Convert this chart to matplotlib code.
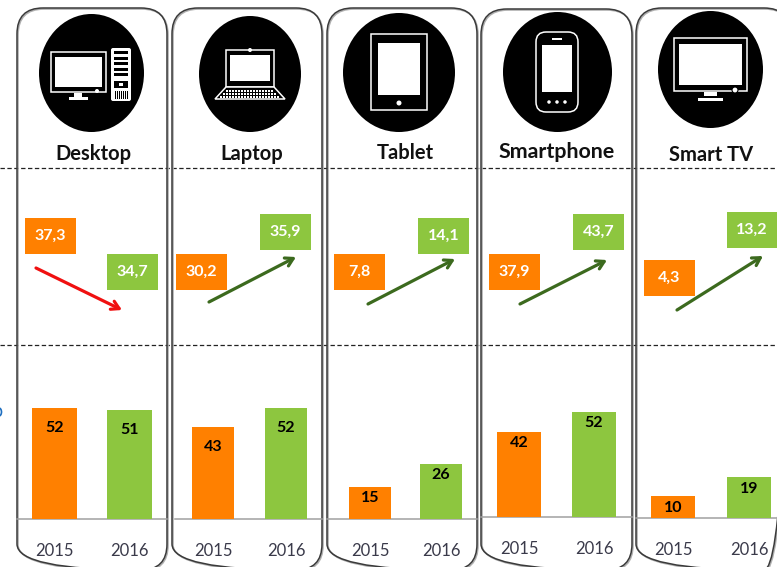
#!/usr/bin/env python3

import matplotlib
matplotlib.use("Agg")
import matplotlib.pyplot as plt
from matplotlib.patches import Ellipse, FancyBboxPatch, Polygon, Rectangle

plt.rcParams['font.family'] = ['Lato', 'DejaVu Sans']

W, H = 777, 567
ORANGE = "#ff8000"
GREEN = "#8dc63f"
DARK_GREEN = "#3c6a1e"
RED = "#f01010"

devices = ["Desktop", "Laptop", "Tablet", "Smartphone", "Smart TV"]
years = ["2015", "2016"]
top_2015 = ["37,3", "30,2", "7,8", "37,9", "4,3"]
top_2016 = ["34,7", "35,9", "14,1", "43,7", "13,2"]
bars_2015 = [52, 43, 15, 42, 10]
bars_2016 = [51, 52, 26, 52, 19]

# layout, all in reference pixels
panel_x = [(17, 167), (172, 322), (327, 477), (481, 632), (636, 790)]
panel_top = [8, 8, 8, 9, 8]
title_pos = [(93, 154), (252, 154), (405, 153), (557, 152), (711, 155)]
title_size = [14.5, 14.5, 14.5, 15.4, 14.5]
circles = [(39, 144, 14, 132), (199, 301, 16, 132), (343, 455, 13, 132),
           (503, 612, 12, 132), (658, 763, 11, 128)]
box_2015 = [(25, 218), (176, 254), (334, 254), (489, 254), (644, 260)]
box_2016 = [(107, 254), (260, 214), (418, 218), (573, 214), (727, 212)]
arrows = [((36, 268), (122, 310)), ((209, 302), (296, 257)), ((368, 304), (455, 259)),
          ((520, 304), (607, 260)), ((677, 310), (763, 256))]
bar_x = [(32, 77, 107, 152), (192, 234, 265, 307), (349, 391, 420, 462),
         (497, 541, 572, 616), (651, 695, 727, 771)]
baseline = [519, 519, 519, 517, 518]
baseline_x = [(17, 167), (175, 322), (327, 477), (481, 632), (636, 777)]
px_per_unit = [2.13, 2.13, 2.12, 2.02, 2.17]
label_drop = [20, 20, 11, 11, 12]
year_pad = [17.5, 17.5, 17.5, 17.5, 17.5]

fig = plt.figure(figsize=(W / 100, H / 100), dpi=100)
ax = fig.add_axes([0, 0, 1, 1])
ax.set_xlim(0, W)
ax.set_ylim(H, 0)
ax.axis("off")


def wrect(x0, x1, y0, y1, face="white", edge="none", lw=1.0, z=6):
    ax.add_patch(Rectangle((x0, y0), x1 - x0, y1 - y0, fc=face, ec=edge, lw=lw, zorder=z))


def desktop_icon():
    wrect(51, 106, 52, 92, face="black", edge="white", lw=1.1)
    wrect(55, 102, 57, 87, z=7)
    wrect(74, 82, 93, 97)
    wrect(69, 88, 97, 100)
    ax.add_patch(Ellipse((97, 91), 4, 4, fc="white", zorder=8))
    ax.add_patch(FancyBboxPatch((111, 48), 20, 53, boxstyle="round,pad=0,rounding_size=2",
                                fc="white", ec="none", zorder=6))
    for y in [51, 57, 62, 68, 73]:
        wrect(114, 128, y, y + 3, face="black", z=7)
    wrect(114, 128, 81, 88, face="black", z=7)
    wrect(119, 123, 83, 86, z=8)
    for x in range(115, 128, 2):
        wrect(x, x + 1, 91, 99, face="black", z=7)


def laptop_icon():
    wrect(226, 274, 50, 87, face="black", edge="white", lw=1.1)
    wrect(230, 270, 55, 81, z=7)
    ax.add_patch(Ellipse((250, 50), 4, 4, fc="white", zorder=8))
    ax.add_patch(Polygon([(226, 87), (274, 87), (285, 99), (215, 99)], fc="black",
                         ec="white", lw=1.1, zorder=6))
    for y, x0, x1 in [(90, 226, 274), (93, 223, 277), (96, 220, 280)]:
        for x in range(x0, x1, 3):
            wrect(x, x + 2, y, y + 1.5, z=7)


def tablet_icon():
    wrect(371, 427, 34, 110, face="black", edge="white", lw=1.1)
    wrect(378, 420, 43, 95, z=7)
    ax.add_patch(Ellipse((399, 103), 5, 5, fc="white", zorder=8))


def phone_icon():
    ax.add_patch(FancyBboxPatch((536, 32), 42, 80, boxstyle="round,pad=0,rounding_size=10",
                                fc="black", ec="white", lw=1.1, zorder=6))
    wrect(542, 572, 45, 92, z=7)
    wrect(552, 562, 38, 39.5, z=7)
    for x in [549, 557, 565]:
        ax.add_patch(Ellipse((x, 102), 3.5, 3.5, fc="white", zorder=8))


def tv_icon():
    wrect(674, 747, 38, 91, face="black", edge="white", lw=1.1)
    wrect(679, 742, 44, 85, z=7)
    ax.add_patch(Ellipse((735, 90), 6, 6, fc="white", ec="black", lw=0.8, zorder=8))
    wrect(704, 717, 92, 96)
    wrect(698, 723, 98, 101)


icons = [desktop_icon, laptop_icon, tablet_icon, phone_icon, tv_icon]

# dashed separators
for y in [168, 345]:
    ax.plot([0, W], [y, y], color="#222222", lw=0.9, ls=(0, (3.5, 2)), zorder=1)

# stray blue fragment on the left edge
ax.add_patch(Ellipse((-1, 412), 5, 8, fc="none", ec="#1f6fc0", lw=1.2, zorder=2))

for i, name in enumerate(devices):
    x0, x1 = panel_x[i]
    # grey shadow line, then the dark outline
    ax.add_patch(FancyBboxPatch((x0 + 1, panel_top[i] + 1), x1 - x0, 570 - panel_top[i],
                                boxstyle="round,pad=0,rounding_size=26",
                                fc="none", ec="#b0b0b0", lw=1.2, zorder=2))
    ax.add_patch(FancyBboxPatch((x0, panel_top[i]), x1 - x0, 570 - panel_top[i],
                                boxstyle="round,pad=0,rounding_size=26",
                                fc="none", ec="#3a3a3a", lw=1.1, zorder=2))
    l, r, b, t = circles[i]
    ax.add_patch(Ellipse(((l + r) / 2, (t + b) / 2), r - l, t - b, fc="black", ec="none", zorder=5))
    icons[i]()
    ax.text(title_pos[i][0], title_pos[i][1], name, ha="center", va="center",
            fontsize=title_size[i], fontweight="bold", color="#111111")

    # boxes with the upper numbers
    for (bx, by), label, color in [(box_2015[i], top_2015[i], ORANGE),
                                   (box_2016[i], top_2016[i], GREEN)]:
        ax.add_patch(Rectangle((bx, by), 51, 36, fc=color, ec="none", zorder=3))
        ax.text(min(bx + 25.5, 752), by + 18, label, ha="center", va="center",
                fontsize=11.5, fontweight="bold", color="white", zorder=4)

    arrow_color = RED if i == 0 else DARK_GREEN
    ax.annotate("", xy=arrows[i][1], xytext=arrows[i][0], zorder=4,
                arrowprops=dict(arrowstyle="->,head_length=0.55,head_width=0.32",
                                color=arrow_color, lw=2.3, shrinkA=0, shrinkB=0))

    ax.plot(baseline_x[i], [baseline[i], baseline[i]], color="#a0a0a0", lw=1.1, zorder=3)

    # bars in their own axes
    a0, a1, b0, b1 = bar_x[i]
    span = b1 - a0
    bar_w = (a1 - a0 + b1 - b0) / 2
    step = (b0 + b1 - a0 - a1) / 2
    ax_h = 60 * px_per_unit[i]
    bar_ax = fig.add_axes([a0 / W, (H - baseline[i]) / H, span / W, ax_h / H])
    bar_ax.patch.set_alpha(0)
    w = bar_w / step
    bar_ax.set_xlim(-w / 2, 1 + w / 2)
    bar_ax.set_ylim(0, 60)
    vals = [bars_2015[i], bars_2016[i]]
    bar_ax.bar([0, 1], vals, width=w, color=[ORANGE, GREEN])
    for k, v in enumerate(vals):
        bar_ax.annotate(str(v), (k, v), xytext=(0, -label_drop[i] * 0.72), textcoords="offset points",
                        ha="center", va="center", fontsize=11.5, fontweight="bold", color="black")
    for s in bar_ax.spines.values():
        s.set_visible(False)
    bar_ax.set_yticks([])
    bar_ax.set_xticks([0, 1], years)
    bar_ax.tick_params(axis="x", length=0, pad=year_pad[i], labelsize=12, labelcolor="#3a3a4a")

fig.savefig("out.png", dpi=100)
